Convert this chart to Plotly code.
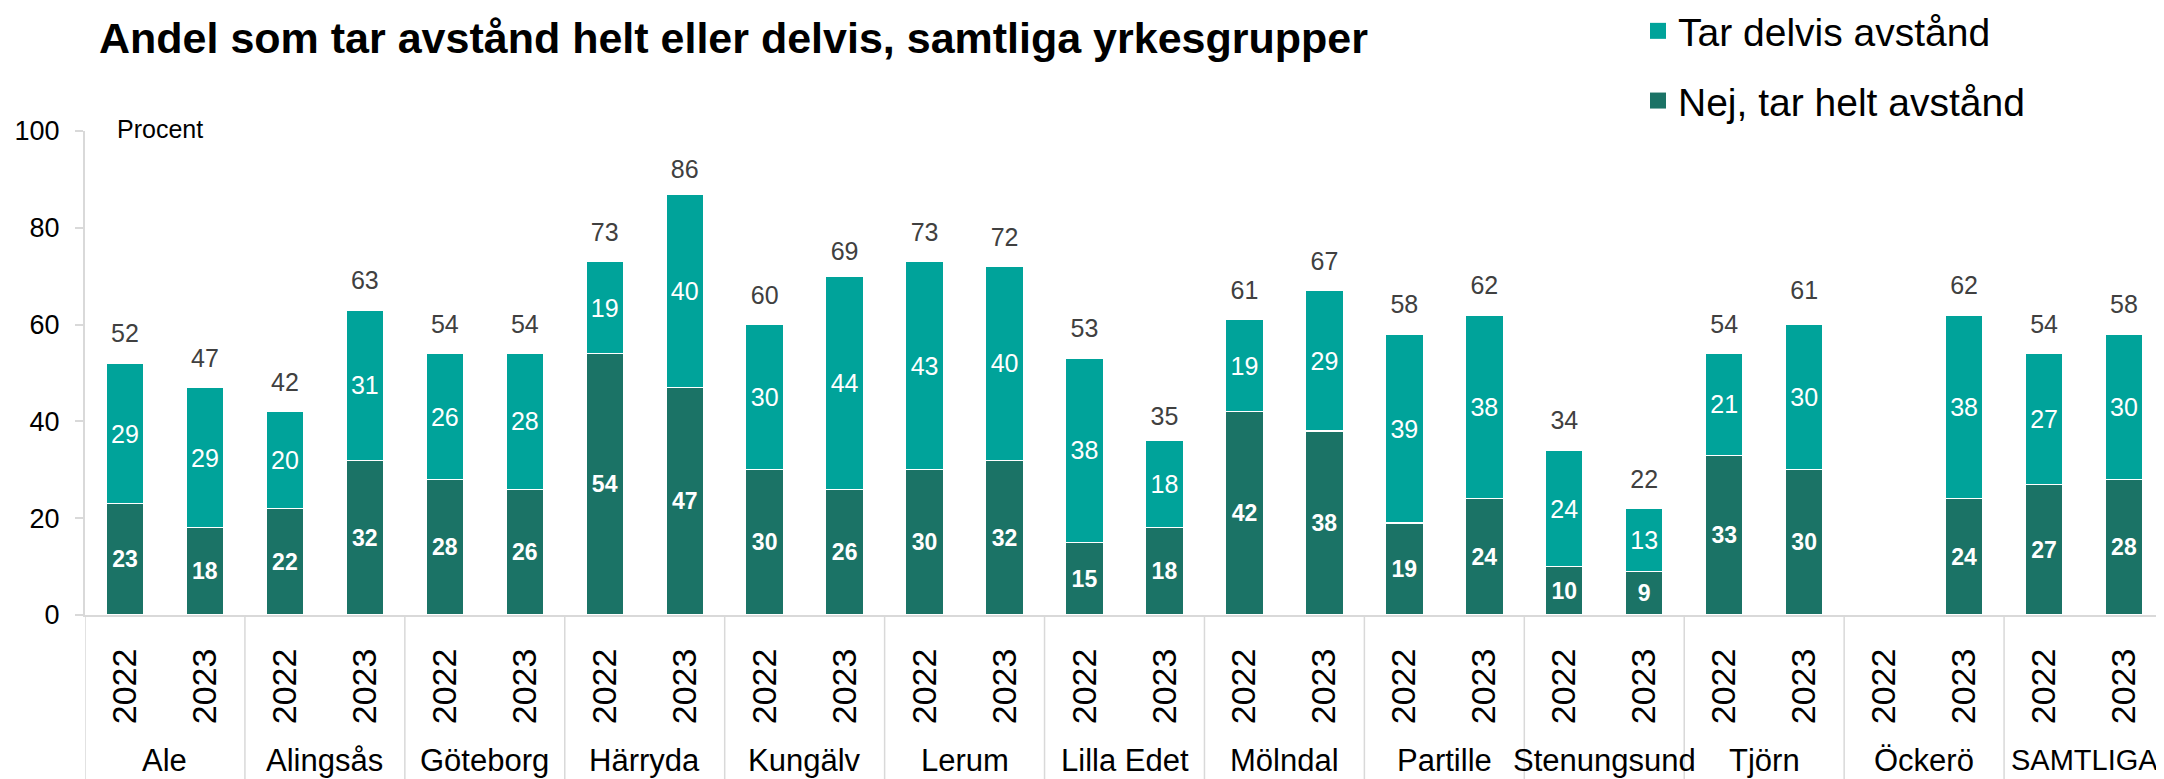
import plotly.graph_objects as go

groups = ["Ale", "Alingsås", "Göteborg", "Härryda", "Kungälv", "Lerum", "Lilla Edet",
          "Mölndal", "Partille", "Stenungsund", "Tjörn", "Öckerö", "SAMTLIGA"]
years = ["2022", "2023"]

helt = [23, 18, 22, 32, 28, 26, 54, 47, 30, 26, 30, 32, 15, 18,
        42, 38, 19, 24, 10, 9, 33, 30, None, 24, 27, 28]
delvis = [29, 29, 20, 31, 26, 28, 19, 40, 30, 44, 43, 40, 38, 18,
          19, 29, 39, 38, 24, 13, 21, 30, None, 38, 27, 30]
totals = [52, 47, 42, 63, 54, 54, 73, 86, 60, 69, 73, 72, 53, 35,
          61, 67, 58, 62, 34, 22, 54, 61, None, 62, 54, 58]

ny = len(years)
pos = list(range(len(groups) * ny))
year_text = [y for _ in groups for y in years]

DARK = "#1B7366"
LIGHT = "#00A39A"
GRID = "#d9d9d9"
FONT = "Liberation Sans, Arial, sans-serif"

# page body has an 8px default margin; figure sized to fit the window
W, H = 2156, 771
L, T, B = 77, 123, 164
PW, PH = W - L, H - T - B

fig = go.Figure()
fig.add_trace(go.Bar(
    x=pos, y=helt, name="Nej, tar helt avstånd", width=0.47,
    marker=dict(color=DARK, line=dict(color="white", width=1.2)),
    text=[("" if v is None else str(v)) for v in helt], textposition="inside",
    insidetextanchor="middle", constraintext="none",
    textfont=dict(color="white", size=23, family=FONT, weight="bold"),
    showlegend=False,
))
fig.add_trace(go.Bar(
    x=pos, y=delvis, name="Tar delvis avstånd", width=0.47,
    marker=dict(color=LIGHT, line=dict(color="white", width=1.2)),
    text=[("" if v is None else str(v)) for v in delvis], textposition="inside",
    insidetextanchor="middle", constraintext="none",
    textfont=dict(color="white", size=25, family=FONT),
    showlegend=False,
))
fig.add_trace(go.Scatter(
    x=pos, y=totals, mode="markers+text", text=[("" if v is None else str(v)) for v in totals],
    marker=dict(size=22, color="rgba(0,0,0,0)"),
    textposition="top center", textfont=dict(color="#404040", size=25, family=FONT),
    showlegend=False, hoverinfo="skip", cliponaxis=False,
))
# legend entries (square swatches)
for name, color, grp, rank in [("Tar delvis avstånd", LIGHT, "a", 1),
                               ("Nej, tar helt avstånd", DARK, "b", 2)]:
    fig.add_trace(go.Scatter(
        x=[pos[0]], y=[None], mode="markers", name=name,
        marker=dict(symbol="square", size=17, color=color),
        legendgroup=grp, legendrank=rank, hoverinfo="skip",
    ))

# group labels and dividers below the axis
for k, g in enumerate(groups):
    center = pos[k * ny] + (ny - 1) / 2
    fig.add_annotation(text=g, x=center, xref="x", y=0, yref="paper",
                       yanchor="middle", xanchor="center", yshift=-145, showarrow=False,
                       font=dict(size=29 if g == "SAMTLIGA" else 31, color="black", family=FONT))
for k in range(len(groups) + 1):
    fig.add_shape(type="line", xref="x", yref="paper",
                  x0=k * ny - 0.5, x1=k * ny - 0.5, y0=0, y1=-B / PH,
                  line=dict(color=GRID, width=1.5))

fig.update_layout(
    width=W, height=H,
    barmode="stack",
    paper_bgcolor="white", plot_bgcolor="white",
    margin=dict(l=L, r=0, t=T, b=B, autoexpand=False),
    font=dict(family=FONT, color="black"),
    title=dict(text="<b>Andel som tar avstånd helt eller delvis, samtliga yrkesgrupper</b>",
               x=91/W, xanchor="left", xref="container",
               y=1 - 30/H, yanchor="middle", yref="container",
               font=dict(size=43, color="black", family=FONT)),
    legend=dict(x=(1630 - L)/PW, y=1 + (T + 9)/PH, xanchor="left", yanchor="top",
                font=dict(size=39, color="black", family=FONT), itemsizing="trace",
                traceorder="grouped", tracegroupgap=16, bgcolor="rgba(0,0,0,0)"),
    showlegend=True,
)
fig.update_xaxes(
    range=[-0.5, 25.5], tickvals=pos, ticktext=year_text,
    showline=True, linecolor=GRID, linewidth=2,
    tickangle=-90, tickfont=dict(size=34, color="black", family=FONT),
    ticks="outside", ticklen=18, tickcolor="rgba(0,0,0,0)",
    showgrid=False, zeroline=False,
)
fig.update_yaxes(
    range=[0, 100], tickvals=[0, 20, 40, 60, 80, 100],
    showline=True, linecolor=GRID, linewidth=2,
    ticks="outside", ticklen=8, tickcolor=GRID, tickwidth=1.5,
    ticklabelstandoff=10,
    tickfont=dict(size=27, color="black", family=FONT),
    showgrid=False, zeroline=False,
)
fig.add_annotation(text="Procent", xref="paper", yref="paper", x=(107 - L)/PW, y=1.0,
                   xanchor="left", yanchor="middle", showarrow=False, yshift=2,
                   font=dict(size=25, color="black", family=FONT))

fig.write_html("out.html")
